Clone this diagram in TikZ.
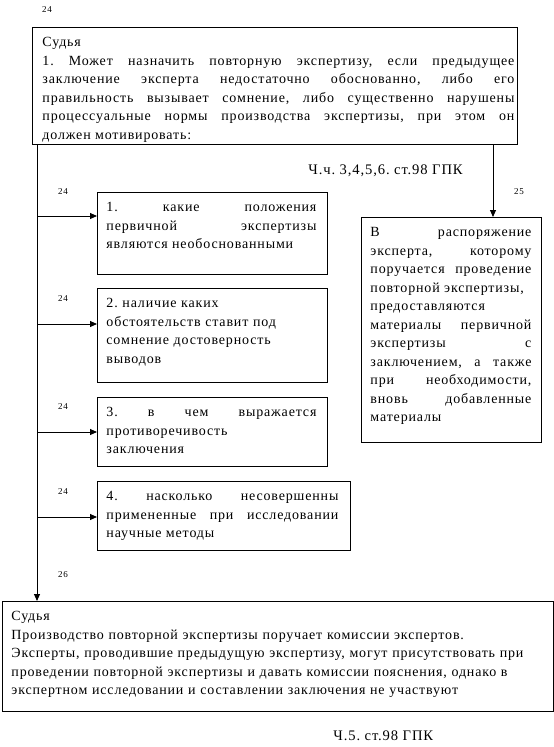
\documentclass[tikz,border=0pt]{standalone}
\usepackage{fontspec}
\setmainfont{Liberation Serif}[LetterSpace=6]
\usetikzlibrary{arrows.meta,positioning}
\hbadness=10000
\hfuzz=20pt
\frenchspacing

\begin{document}
\begin{tikzpicture}[x=1pt,y=-1pt,line width=.9pt,
  box/.style={draw,anchor=north west,inner sep=0pt},
  txt/.style={anchor=north west,inner sep=0pt,align=justify,font=\fontsize{14}{18.5}\selectfont},
  ltxt/.style={txt,align=left},
  num/.style={font=\fontsize{9}{10}\selectfont},
  cite/.style={anchor=base west,inner sep=0pt,font=\fontsize{14.6}{18}\selectfont},
  arr/.style={-{Triangle[length=7pt,width=6pt]}}]
\useasboundingbox (0,0) rectangle (554,747);
\coordinate (trunk) at (37,0);
\coordinate (rtrunk) at (493,0);
\node[box,minimum width=485,minimum height=117] (judge) at (32,27) {};
\node[txt,text width=472] (judget) at (42,33.5) {\strut Судья\\
1. Может назначить повторную экспертизу, если предыдущее\linebreak
заключение эксперта недостаточно обоснованно, либо его\linebreak
правильность вызывает сомнение, либо существенно нарушены\linebreak
процессуальные нормы производства экспертизы, при этом он\linebreak
должен мотивировать:};
\node[box,minimum width=230,minimum height=82] (q1) at (97,192) {};
\node[txt,text width=210] (q1t) at (106,198.5) {\strut 1. какие положения\linebreak
первичной экспертизы\linebreak являются необоснованными};
\node[box,minimum width=230,minimum height=94] (q2) at (97,288) {};
\node[ltxt,text width=210] (q2t) at (106,294.5) {\strut 2. наличие каких\\
обстоятельств ставит под\\ сомнение достоверность\\ выводов};
\node[box,minimum width=230,minimum height=69] (q3) at (97,397) {};
\node[txt,text width=210] (q3t) at (106,403.5) {\strut 3. в чем выражается\linebreak
противоречивость\\ заключения};
\node[box,minimum width=253,minimum height=69] (q4) at (97,481) {};
\node[txt,text width=232] (q4t) at (106,487.5) {\strut 4. насколько несовершенны\linebreak
примененные при исследовании\linebreak научные методы};
\node[box,minimum width=180,minimum height=225] (mat) at (361,217) {};
\node[txt,text width=161] (matt) at (370,223.5) {\strut В распоряжение\linebreak
эксперта, которому\linebreak поручается проведение\linebreak
повторной экспертизы,\\ предоставляются\\ материалы первичной\linebreak
экспертизы с\linebreak заключением, а также\linebreak при необходимости,\linebreak
вновь добавленные\linebreak материалы};
\node[box,minimum width=551,minimum height=110] (comm) at (2,601) {};
\node[ltxt,text width=535] (commt) at (11,607.5) {\strut Судья\\
Производство повторной экспертизы поручает комиссии экспертов.\\
Эксперты, проводившие предыдущую экспертизу, могут присутствовать при\\
проведении повторной экспертизы и давать комиссии пояснения, однако в\\
экспертном исследовании и составлении заключения не участвуют};
\draw[arr] (judge.south -| trunk) -- (comm.north -| trunk);
\draw[arr] ([yshift=-24]q1.north west -| trunk) -- ([yshift=-24]q1.north west);
\draw[arr] ([yshift=-36]q2.north west -| trunk) -- ([yshift=-36]q2.north west);
\draw[arr] ([yshift=-35]q3.north west -| trunk) -- ([yshift=-35]q3.north west);
\draw[arr] ([yshift=-36]q4.north west -| trunk) -- ([yshift=-36]q4.north west);
\draw[arr] (judge.south -| rtrunk) -- (mat.north -| rtrunk);
\node[num] (n0) at (47,10) {24};
\node[num] (n1) at (63,192) {24};
\node[num] (n2) at (63,299) {24};
\node[num] (n3) at (63,407) {24};
\node[num] (n4) at (63,492) {24};
\node[num] (n5) at (519,192) {25};
\node[num] (n6) at (63,575) {26};
\node[cite] (c1) at (308,174) {Ч.ч. 3,4,5,6. ст.98 ГПК};
\node[cite] (c2) at (333,740.5) {Ч.5. ст.98 ГПК};
\end{tikzpicture}
\end{document}
